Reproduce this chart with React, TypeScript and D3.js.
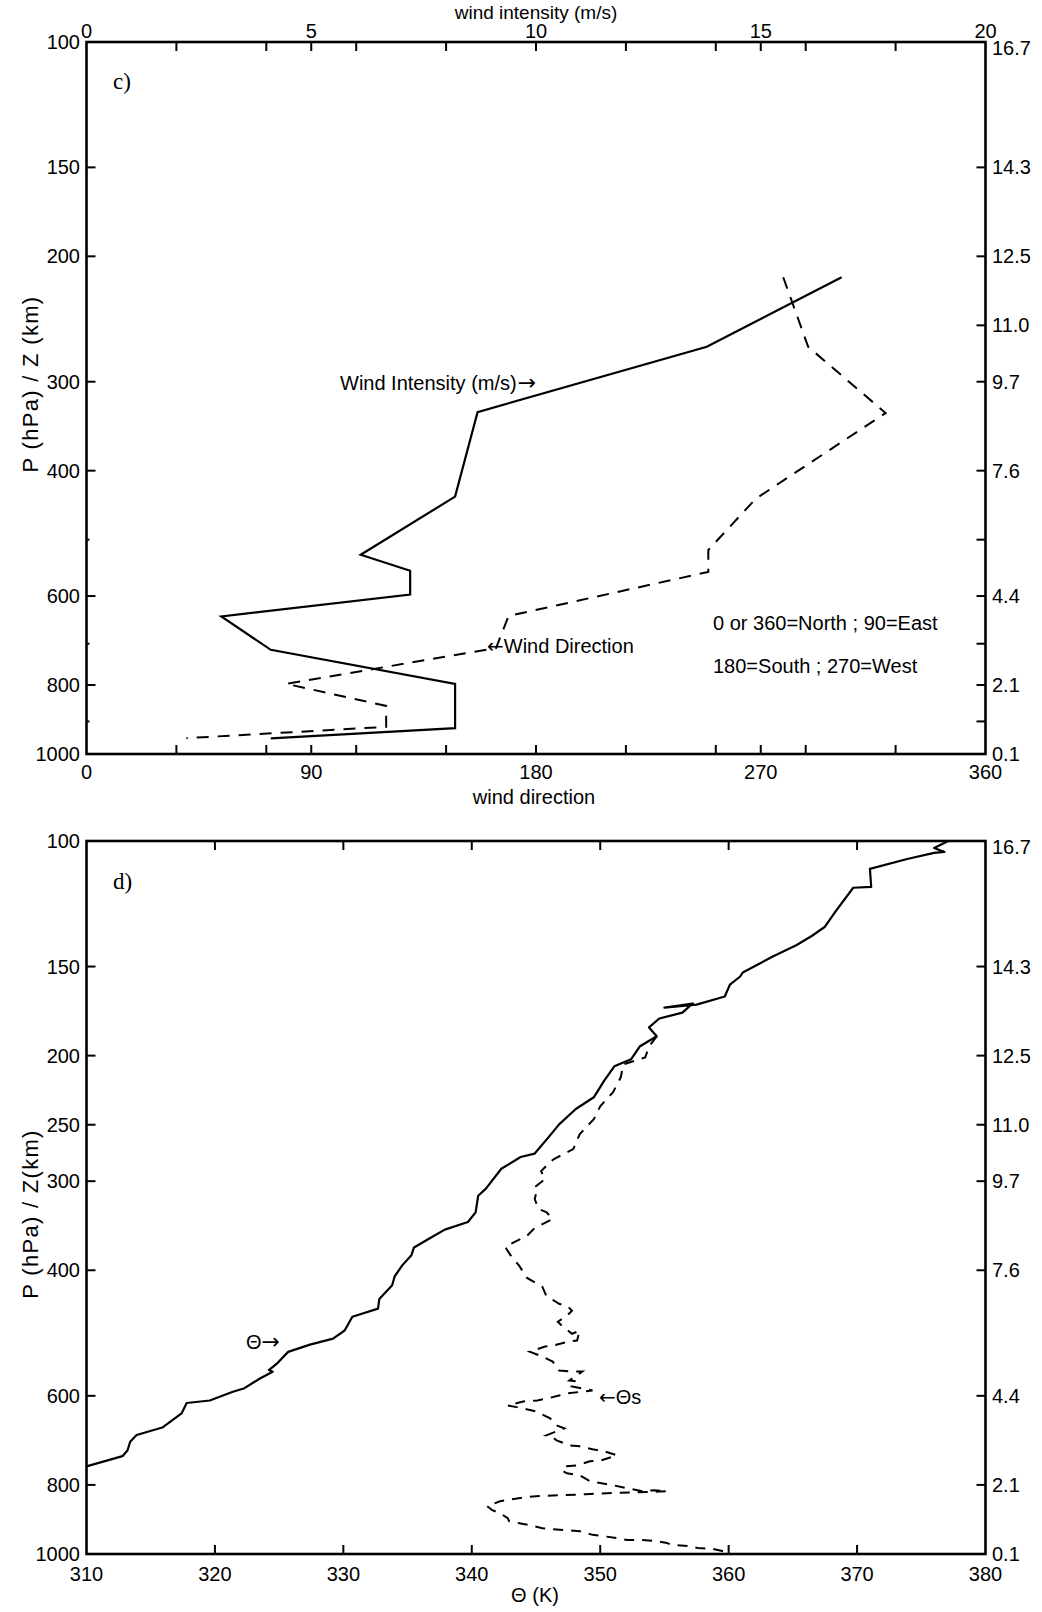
import React from "react";
import * as d3 from "d3";

const W = 1042;
const H = 1612;

// ---------- Panel c data ----------
const windLevels = [214, 268, 331, 435, 525, 553, 597, 641, 714, 797, 920, 951];
const windSpeed = [16.8, 13.8, 8.7, 8.2, 6.1, 7.2, 7.2, 3.0, 4.1, 8.2, 8.2, 4.1];
const dirLevels = [214, 268, 332, 438, 517, 555, 640, 710, 797, 856, 916, 950];
const windDir = [279, 289, 320, 268, 249, 249, 169, 164, 80, 120, 120, 40];

const dirTicks = [36, 72, 90, 108, 144, 180, 216, 252, 270, 288, 324];
const dirLabels = [0, 90, 180, 270, 360];
const speedLabels = [0, 5, 10, 15, 20];
const pLabelsC = [100, 150, 200, 300, 400, 600, 800, 1000];
const pLabelsD = [100, 150, 200, 250, 300, 400, 600, 800, 1000];
const minorP = [500, 700, 900];
const zLevels = [100, 150, 200, 250, 300, 400, 600, 800, 1000];
const zLabels = ["16.7", "14.3", "12.5", "11.0", "9.7", "7.6", "4.4", "2.1", "0.1"];
const thetaLabels = [310, 320, 330, 340, 350, 360, 370, 380];

// ---------- Panel d data: [pressure hPa, K] ----------
const theta: [number, number][] = [
  [100, 377.1], [102.3, 376.0], [103.6, 376.8], [103.9, 376.0], [106.0, 373.9],
  [109.4, 371.0], [116.0, 371.1], [116.3, 369.7], [125.7, 368.3], [131.9, 367.5],
  [135.8, 366.5], [139.9, 365.3], [145.3, 363.4], [152.9, 361.1], [154.9, 360.9],
  [159.0, 360.1], [165.2, 359.7], [169.6, 357.5], [171.3, 355.0], [169.0, 357.2],
  [174.1, 356.4], [177.4, 354.6], [182.6, 353.8], [187.9, 354.4], [194.0, 353.1],
  [202.4, 352.4], [207.0, 351.1], [217.0, 350.3], [228.8, 349.5], [237.6, 348.1],
  [249.7, 346.8], [260.0, 346.0], [274.4, 344.9], [277.5, 343.8], [288.2, 342.3],
  [307.3, 341.1], [314.4, 340.5], [331.8, 340.3], [342.2, 339.7], [350.8, 337.9],
  [359.2, 336.9], [371.6, 335.5], [381.0, 335.3], [393.4, 334.6], [407.8, 334.0],
  [419.8, 333.8], [438.8, 332.8], [452.8, 332.7], [464.8, 330.7], [485.9, 330.1],
  [498.9, 329.2], [508.5, 327.4], [520.6, 325.7], [541.3, 324.8], [552.1, 324.2],
  [555.0, 324.5], [567.3, 323.5], [585.4, 322.3], [592.2, 321.4], [609.1, 319.6],
  [614.1, 317.8], [635.2, 317.4], [664.7, 315.9], [681.0, 313.9], [696.0, 313.4],
  [715.4, 313.2], [729.1, 312.8], [753.5, 310.0],
];

const thetaS: [number, number][] = [
  [188.0, 354.4], [194.2, 353.8], [201.2, 353.5], [205.7, 351.8], [214.5, 351.6],
  [225.1, 351.0], [235.5, 350.0], [245.6, 349.5], [257.8, 348.4], [270.5, 347.9],
  [279.3, 346.4], [282.0, 346.1], [290.4, 345.4], [298.0, 345.7], [305.8, 344.9],
  [312.7, 345.0], [317.8, 344.9], [328.2, 345.2], [331.4, 345.8], [338.9, 346.3],
  [343.3, 345.7], [348.9, 344.9], [357.9, 344.3], [363.8, 343.5], [370.9, 342.6],
  [380.6, 343.0], [394.4, 343.7], [410.0, 344.3], [422.0, 345.5], [434.4, 345.8],
  [445.7, 346.8], [450.0, 347.5], [455.9, 347.8], [463.3, 347.4], [472.4, 346.7],
  [480.0, 347.1], [491.0, 347.8], [486.2, 348.4], [502.0, 348.2], [503.7, 347.5],
  [510.2, 346.3], [511.8, 345.7], [520.2, 344.5], [528.6, 345.5], [537.2, 346.3],
  [553.0, 346.8], [554.8, 347.8], [554.8, 348.6], [571.0, 347.6], [572.8, 348.2],
  [582.1, 347.8], [589.7, 349.4], [595.4, 347.4], [599.3, 346.8], [605.1, 345.9],
  [609.0, 345.1], [611.0, 344.0], [618.9, 342.8], [624.9, 344.0], [631.0, 345.0],
  [645.4, 346.1], [660.1, 346.6], [666.5, 347.2], [681.7, 345.8], [683.9, 346.2],
  [692.8, 346.6], [704.0, 347.6], [706.3, 348.4], [713.1, 349.4], [717.7, 350.3],
  [727.0, 351.3], [738.9, 350.1], [741.3, 349.2], [750.9, 348.2], [753.3, 347.4],
  [763.1, 347.0], [770.5, 347.4], [775.5, 348.4], [790.6, 349.2], [795.7, 350.1],
  [800.9, 351.0], [808.7, 352.1], [816.6, 353.3], [814.0, 354.2], [816.6, 355.2],
  [821.8, 350.5], [824.5, 348.9], [827.1, 347.0], [829.8, 345.0], [832.5, 344.1],
  [843.3, 342.2], [857.0, 341.2], [868.1, 341.6], [876.6, 342.2], [890.8, 342.8],
  [899.4, 342.9], [905.2, 343.7], [911.1, 344.5], [919.9, 345.5], [922.9, 346.3],
  [925.9, 347.4], [928.9, 348.4], [940.0, 349.4], [943.9, 350.2], [949.9, 351.3],
  [956.0, 352.1], [956.0, 353.2], [959.1, 354.4], [965.3, 355.2], [971.4, 355.6],
  [974.6, 356.8], [980.9, 357.6], [984.0, 358.8], [990.4, 359.5], [1000, 360.1],
];

const FONT = "'Liberation Sans', Arial, Helvetica, sans-serif";
const ARROW = "'DejaVu Sans', sans-serif";
const SERIF = "'Liberation Serif', 'Times New Roman', serif";

const L = 86.5;
const R = 985.5;
const cTop = 42;
const cBot = 754;
const dTop = 841;
const dBot = 1554;

export default function App() {
  const yC = d3.scaleLog().domain([100, 1000]).range([cTop, cBot]);
  const yD = d3.scaleLog().domain([100, 1000]).range([dTop, dBot]);
  const xDir = d3.scaleLinear().domain([0, 360]).range([L, R]);
  const xWs = d3.scaleLinear().domain([0, 20]).range([L, R]);
  const xT = d3.scaleLinear().domain([310, 380]).range([L, R]);

  const wsLine = d3
    .line<number>()
    .x((_, i) => xWs(windSpeed[i]))
    .y((p) => yC(p))(windLevels) as string;
  const dirLine = d3
    .line<number>()
    .x((_, i) => xDir(windDir[i]))
    .y((p) => yC(p))(dirLevels) as string;
  const thLine = d3
    .line<[number, number]>()
    .x((d) => xT(d[1]))
    .y((d) => yD(d[0]))(theta) as string;
  const thsLine = d3
    .line<[number, number]>()
    .x((d) => xT(d[1]))
    .y((d) => yD(d[0]))(thetaS) as string;

  const tk = 9;
  const fs = 20;

  const leftLabels = (ys: d3.ScaleLogarithmic<number, number>, labels: number[]) =>
    labels.map((p) => (
      <text key={"l" + p} x={80} y={ys(p)} dy="0.35em" textAnchor="end" fontSize={fs} fontFamily={FONT}>
        {p}
      </text>
    ));
  const rightLabels = (ys: d3.ScaleLogarithmic<number, number>) =>
    zLevels.map((p, i) => (
      <text key={"r" + p} x={992} y={ys(p) + (i === 0 ? 6 : 0)} dy="0.35em" textAnchor="start" fontSize={fs} fontFamily={FONT}>
        {zLabels[i]}
      </text>
    ));

  return (
    <svg
      width={W}
      height={H}
      viewBox={`0 0 ${W} ${H}`}
      style={{ position: "absolute", left: 0, top: 0, background: "#fff" }}
    >
      <rect x={0} y={0} width={W} height={H} fill="#fff" />
      <defs>
        <clipPath id="clipC">
          <rect x={L} y={cTop} width={R - L} height={cBot - cTop} />
        </clipPath>
        <clipPath id="clipD">
          <rect x={L} y={dTop} width={R - L} height={dBot - dTop} />
        </clipPath>
      </defs>

      {/* ================= Panel c ================= */}
      <g>
        <g clipPath="url(#clipC)" fill="none" stroke="#000">
          <path d={wsLine} strokeWidth={2.2} strokeLinejoin="miter" />
          <path d={dirLine} strokeWidth={2} strokeDasharray="12,9" />
        </g>
        <rect x={L} y={cTop} width={R - L} height={cBot - cTop} fill="none" stroke="#000" strokeWidth={2.6} />
        {dirTicks.map((d) => (
          <g key={"ct" + d} stroke="#000" strokeWidth={2}>
            <line x1={xDir(d)} x2={xDir(d)} y1={cTop} y2={cTop + tk} />
            <line x1={xDir(d)} x2={xDir(d)} y1={cBot} y2={cBot - tk} />
          </g>
        ))}
        {pLabelsC.slice(1, -1).map((p) => (
          <line key={"clt" + p} x1={L} x2={L + tk} y1={yC(p)} y2={yC(p)} stroke="#000" strokeWidth={2} />
        ))}
        {minorP.map((p) => (
          <line key={"clm" + p} x1={L} x2={L + 3} y1={yC(p)} y2={yC(p)} stroke="#000" strokeWidth={2} />
        ))}
        {[...zLevels.slice(1, -1), ...minorP].map((p) => (
          <line key={"crt" + p} x1={R} x2={R - tk} y1={yC(p)} y2={yC(p)} stroke="#000" strokeWidth={2} />
        ))}
        {leftLabels(yC, pLabelsC)}
        {rightLabels(yC)}
        {speedLabels.map((s) => (
          <text key={"sl" + s} x={xWs(s)} y={38} textAnchor="middle" fontSize={fs} fontFamily={FONT}>
            {s}
          </text>
        ))}
        {dirLabels.map((d) => (
          <text key={"dl" + d} x={xDir(d)} y={779} textAnchor="middle" fontSize={fs} fontFamily={FONT}>
            {d}
          </text>
        ))}
        <text x={536} y={19} textAnchor="middle" fontSize={19} fontFamily={FONT}>
          wind intensity (m/s)
        </text>
        <text x={534} y={804} textAnchor="middle" fontSize={fs} fontFamily={FONT}>
          wind direction
        </text>
        <text
          transform={`translate(38, 384) rotate(-90)`}
          textAnchor="middle"
          fontSize={22}
          letterSpacing={1.3}
          fontFamily={FONT}
        >
          P (hPa) / Z (km)
        </text>
        <text x={113} y={89} fontSize={23} fontFamily={SERIF}>
          c)
        </text>
        <text x={340} y={390} fontSize={fs} fontFamily={FONT}>
          Wind Intensity (m/s)
          <tspan fontFamily={ARROW} fontSize={22} dx={1}>
            →
          </tspan>
        </text>
        <text x={487} y={653} fontSize={fs} fontFamily={FONT}>
          <tspan fontFamily={ARROW} fontSize={20}>
            ←
          </tspan>
          Wind Direction
        </text>
        <text x={713} y={630} fontSize={fs} fontFamily={FONT}>
          0 or 360=North ; 90=East
        </text>
        <text x={713} y={673} fontSize={fs} fontFamily={FONT}>
          180=South ; 270=West
        </text>
      </g>

      {/* ================= Panel d ================= */}
      <g>
        <g clipPath="url(#clipD)" fill="none" stroke="#000">
          <path d={thLine} strokeWidth={2.2} strokeLinejoin="round" />
          <path d={thsLine} strokeWidth={2} strokeDasharray="10,8" />
        </g>
        <rect x={L} y={dTop} width={R - L} height={dBot - dTop} fill="none" stroke="#000" strokeWidth={2.6} />
        {thetaLabels.slice(1, -1).map((t) => (
          <g key={"dt" + t} stroke="#000" strokeWidth={2}>
            <line x1={xT(t)} x2={xT(t)} y1={dTop} y2={dTop + tk} />
            <line x1={xT(t)} x2={xT(t)} y1={dBot} y2={dBot - tk} />
          </g>
        ))}
        {pLabelsD.slice(1, -1).map((p) => (
          <line key={"dlt" + p} x1={L} x2={L + tk} y1={yD(p)} y2={yD(p)} stroke="#000" strokeWidth={2} />
        ))}
        {zLevels.slice(1, -1).map((p) => (
          <line key={"drt" + p} x1={R} x2={R - tk} y1={yD(p)} y2={yD(p)} stroke="#000" strokeWidth={2} />
        ))}
        {leftLabels(yD, pLabelsD)}
        {rightLabels(yD)}
        {thetaLabels.map((t) => (
          <text key={"tl" + t} x={xT(t)} y={1581} textAnchor="middle" fontSize={fs} fontFamily={FONT}>
            {t}
          </text>
        ))}
        <text x={535} y={1602} textAnchor="middle" fontSize={fs} fontFamily={FONT}>
          Θ (K)
        </text>
        <text
          transform={`translate(38, 1214) rotate(-90)`}
          textAnchor="middle"
          fontSize={22}
          letterSpacing={1.3}
          fontFamily={FONT}
        >
          P (hPa) / Z(km)
        </text>
        <text x={113} y={889} fontSize={23} fontFamily={SERIF}>
          d)
        </text>
        <text x={246} y={1349} fontSize={fs} fontFamily={FONT}>
          Θ
          <tspan fontFamily={ARROW} fontSize={22}>
            →
          </tspan>
        </text>
        <text x={599} y={1404} fontSize={fs} fontFamily={FONT}>
          <tspan fontFamily={ARROW} fontSize={20}>
            ←
          </tspan>
          Θs
        </text>
      </g>
    </svg>
  );
}
